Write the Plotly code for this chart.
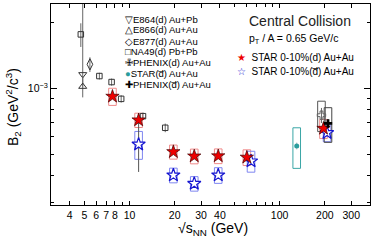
import plotly.graph_objects as go
import numpy as np

# ---------------- data ----------------
e864_x = [4.88]
e864_y = [1.16e-3]
e864_ep = [2.0e-3]
e864_em = [0.14e-3]

e866_x = [4.88]
e866_y = [1.02e-3]
e866_ep = [0.12e-3]
e866_em = [0.11e-3]

e877_x = [5.45]
e877_y = [1.29e-3]
e877_e = [0.10e-3]

na49_x = [4.74, 6.3, 7.6, 8.8, 12.3, 17.3]
na49_y = [1.77e-3, 1.14e-3, 1.07e-3, 8.96e-4, 7.46e-4, 6.6e-4]
na49_e = [0.22e-3, 0.04e-3, 0.04e-3, 0.035e-3, 0.03e-3, 0.03e-3]

phenix_d_x = [190]
phenix_d_y = [7.54e-4]
phenix_d_e = [0.06e-3]
phenix_d_sys = [0.12e-3]

phenix_dbar_x = [210]
phenix_dbar_y = [6.91e-4]
phenix_dbar_e = [0.03e-3]
phenix_dbar_sys = [0.125e-3]

star130_x = [130]
star130_y = [5.45e-4]
star130_e = [0.02e-3]
star130_sys = [0.115e-3]

star_d_x = [7.7, 11.5, 19.6, 27, 39, 60.5, 196]
star_d_y = [9.19e-4, 7.16e-4, 5.12e-4, 4.89e-4, 4.9e-4, 4.83e-4, 6.55e-4]
star_d_e = [0.01e-3, 0.01e-3, 0.008e-3, 0.008e-3, 0.008e-3, 0.01e-3, 0.01e-3]
star_d_sys = [0.083e-3, 0.054e-3, 0.038e-3, 0.038e-3, 0.038e-3, 0.04e-3, 0.066e-3]

star_dbar_x = [11.5, 19.6, 27, 39, 64.5, 207]
star_dbar_y = [5.54e-4, 4.0e-4, 3.66e-4, 4.0e-4, 4.64e-4, 6.26e-4]
star_dbar_ep = [2.16e-4, 0.01e-3, 0.01e-3, 0.01e-3, 0.015e-3, 0.015e-3]
star_dbar_em = [1.40e-4, 0.01e-3, 0.01e-3, 0.01e-3, 0.015e-3, 0.015e-3]
star_dbar_sys = [0.081e-3, 0.031e-3, 0.028e-3, 0.033e-3, 0.051e-3, 0.056e-3]

x_tickvals = [4, 5, 6, 7, 8, 10, 20, 30, 40, 100, 200, 300]
x_minor = [9, 50, 60, 70, 80, 90]
y_minor = [3e-4, 4e-4, 5e-4, 6e-4, 7e-4, 8e-4, 9e-4, 2e-3]

# ---------------- helpers ----------------
BOX_F = 1.06


def boxes(xs, ys, sys):
    bx, by = [], []
    for x, y, s in zip(xs, ys, sys):
        bx += [x / BOX_F, x * BOX_F, x * BOX_F, x / BOX_F, x / BOX_F, None]
        by += [y - s, y - s, y + s, y + s, y - s, None]
    return bx, by


fig = go.Figure()

box_sets = [
    (star_d_x, star_d_y, star_d_sys, "#f08a8a"),
    (star_dbar_x, star_dbar_y, star_dbar_sys, "#7f86f0"),
    (phenix_d_x, phenix_d_y, phenix_d_sys, "#555555"),
    (phenix_dbar_x, phenix_dbar_y, phenix_dbar_sys, "#444444"),
    (star130_x, star130_y, star130_sys, "#3aa6a6"),
]
for xs, ys, ss, col in box_sets:
    bx, by = boxes(xs, ys, ss)
    fig.add_trace(go.Scatter(x=bx, y=by, mode="lines",
                             line=dict(color=col, width=1), hoverinfo="skip"))

ERRC = "#666666"


def err(plus, minus=None, color=ERRC):
    d = dict(type="data", array=plus, color=color, thickness=1, width=0)
    if minus is not None:
        d["symmetric"] = False
        d["arrayminus"] = minus
    return d


fig.add_trace(go.Scatter(x=e864_x, y=e864_y, mode="markers",
                         error_y=err(e864_ep, e864_em),
                         marker=dict(symbol="triangle-down-open", size=7, color="#333",
                                     line=dict(width=1))))
fig.add_trace(go.Scatter(x=e866_x, y=e866_y, mode="markers",
                         error_y=err(e866_ep, e866_em),
                         marker=dict(symbol="triangle-up-open", size=7, color="#333",
                                     line=dict(width=1))))
fig.add_trace(go.Scatter(x=e877_x, y=e877_y, mode="markers",
                         error_y=err(e877_e),
                         marker=dict(symbol="diamond-tall-open", size=8, color="#333",
                                     line=dict(width=1))))
fig.add_trace(go.Scatter(x=na49_x, y=na49_y, mode="markers",
                         error_y=err(na49_e),
                         marker=dict(symbol="square-open", size=5.5, color="#333",
                                     line=dict(width=1))))
fig.add_trace(go.Scatter(x=phenix_d_x, y=phenix_d_y, mode="markers",
                         error_y=err(phenix_d_e),
                         marker=dict(symbol="cross-open", size=7, color="#666",
                                     line=dict(width=1))))
fig.add_trace(go.Scatter(x=star130_x, y=star130_y, mode="markers",
                         error_y=err(star130_e, color="#bbb"),
                         marker=dict(symbol="circle", size=5, color="#2a9d9d")))
fig.add_trace(go.Scatter(x=star_dbar_x, y=star_dbar_y, mode="markers",
                         error_y=err(star_dbar_ep, star_dbar_em, color="#555"),
                         marker=dict(symbol="star", size=10, color="white",
                                     line=dict(width=1.2, color="#1515d0"))))
fig.add_trace(go.Scatter(x=star_d_x, y=star_d_y, mode="markers",
                         error_y=err(star_d_e, color="#333"),
                         marker=dict(symbol="star", size=10, color="#ee0000",
                                     line=dict(width=0.7, color="#400000"))))
fig.add_trace(go.Scatter(x=phenix_dbar_x, y=phenix_dbar_y, mode="markers",
                         error_y=err(phenix_dbar_e, color="#333"),
                         marker=dict(symbol="cross", size=7, color="black")))

FONT = "Liberation Sans, Arial, sans-serif"

fig.update_layout(
    width=373, height=241,
    margin=dict(l=51, r=3, t=4, b=36),
    paper_bgcolor="white", plot_bgcolor="white",
    showlegend=False,
    font=dict(family=FONT, size=10, color="black"),
    xaxis=dict(
        type="log", range=[np.log10(3.0), np.log10(400)],
        tickmode="array", tickvals=x_tickvals, ticktext=[str(v) for v in x_tickvals],
        ticks="inside", ticklen=4, tickcolor="black",
        showline=True, linecolor="black", linewidth=1, mirror="allticks",
        showgrid=False, zeroline=False,
        tickfont=dict(size=10.5, family=FONT),
        minor=dict(tickmode="array", tickvals=x_minor, ticks="inside",
                   ticklen=3, tickcolor="black", showgrid=False),
    ),
    yaxis=dict(
        type="log", range=[np.log10(2.92e-4), np.log10(2.44e-3)],
        tickmode="array", tickvals=[1e-3], ticktext=["10<sup>−3</sup>"],
        ticks="inside", ticklen=6, tickcolor="black",
        showline=True, linecolor="black", linewidth=1, mirror="allticks",
        showgrid=False, zeroline=False,
        tickfont=dict(size=10.5, family=FONT),
        minor=dict(tickmode="array", tickvals=y_minor, ticks="inside",
                   ticklen=3, tickcolor="black", showgrid=False),
    ),
)


def px2paper(xp, yp):
    return (xp - 51) / 319.0, (205 - yp) / 201.0


annots = []
# axis titles
ax, ay = px2paper(13, 107)
annots.append(dict(text="B<sub>2</sub> (GeV<sup>2</sup>/c<sup>3</sup>)", x=ax, y=ay,
                   xref="paper", yref="paper", textangle=-90, showarrow=False,
                   xanchor="center", yanchor="middle", font=dict(size=14, family=FONT)))
ax, ay = px2paper(250, 229)
annots.append(dict(text="√s<sub>NN</sub> (GeV)", x=ax, y=ay,
                   xref="paper", yref="paper", showarrow=False,
                   xanchor="right", yanchor="middle", font=dict(size=14, family=FONT)))

# left legend
left_rows = [
    "▽E864(d) Au+Pb",
    "△E866(d) Au+Au",
    "◇E877(d) Au+Au",
    "□NA49(d) Pb+Pb",
    "✙PHENIX(d) Au+Au",
    "<span style='color:#2a9d9d'>●</span>STAR(d̅) Au+Au",
    "✚PHENIX(d̅) Au+Au",
]
row_y = [19, 30, 41, 51.7, 62.3, 73.3, 84]
for t, yp in zip(left_rows, row_y):
    ax, ay = px2paper(123, yp)
    annots.append(dict(text=t, x=ax, y=ay, xref="paper", yref="paper", showarrow=False,
                       xanchor="left", yanchor="middle", font=dict(size=9.5, family=FONT)))

# right legend
ax, ay = px2paper(247, 21)
annots.append(dict(text="Central Collision", x=ax, y=ay, xref="paper", yref="paper",
                   showarrow=False, xanchor="left", yanchor="middle",
                   font=dict(size=14, family=FONT, color="#222")))
ax, ay = px2paper(247, 39)
annots.append(dict(text="p<sub>T</sub> / A = 0.65 GeV/c", x=ax, y=ay, xref="paper", yref="paper",
                   showarrow=False, xanchor="left", yanchor="middle",
                   font=dict(size=10.5, family=FONT)))
ax, ay = px2paper(235, 57)
annots.append(dict(text="<span style='color:#ee0000'>★</span>  STAR 0-10%(d) Au+Au", x=ax, y=ay,
                   xref="paper", yref="paper", showarrow=False, xanchor="left", yanchor="middle",
                   font=dict(size=10, family=FONT)))
ax, ay = px2paper(235, 71.5)
annots.append(dict(text="<span style='color:#1515d0'>☆</span>  STAR 0-10%(d̅) Au+Au", x=ax, y=ay,
                   xref="paper", yref="paper", showarrow=False, xanchor="left", yanchor="middle",
                   font=dict(size=10, family=FONT)))

fig.update_layout(annotations=annots)
fig.write_html("out.html",
               config={"displayModeBar": False},
               post_script="document.body.style.margin='0';document.body.style.padding='0';")
